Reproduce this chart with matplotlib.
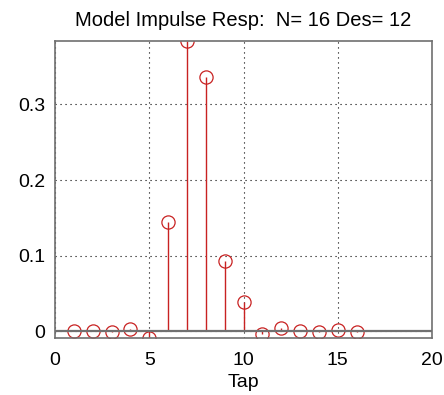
import numpy as np
import matplotlib
matplotlib.use("Agg")
import matplotlib.pyplot as plt

plt.rcParams['font.family'] = ['Liberation Sans', 'DejaVu Sans']

# impulse response of the model, one value per tap
taps = np.arange(1, 17)
resp = [0.0003, 0.0, -0.001, 0.003, -0.009, 0.145, 0.384, 0.337,
        0.093, 0.038, -0.004, 0.0045, 0.0, -0.001, 0.0018, -0.001]
n_taps = 16
delay = 12

fig = plt.figure(figsize=(4.44, 3.95), dpi=100)
ax = fig.add_axes([55/444, 1 - 338/395, (432 - 55)/444, (338 - 41)/395])

red = '#c82222'
markerline, stemlines, baseline = ax.stem(taps, resp)
plt.setp(stemlines, color=red, linewidth=1.0)
plt.setp(markerline, color=red, marker='o', markersize=9.5,
         markerfacecolor='none', markeredgewidth=0.9)
plt.setp(baseline, color='#707070', linewidth=1.6)
baseline.set_xdata([0, 20])

ax.set_xlim(0, 20)
ax.set_ylim(min(resp), max(resp))
ax.set_xticks([0, 5, 10, 15, 20])
ax.set_yticks([0, 0.1, 0.2, 0.3])
ax.set_yticklabels(['0', '0.1', '0.2', '0.3'])
ax.grid(True, linestyle=(0, (1, 3.5)), color='black', linewidth=0.8)
ax.tick_params(length=0, labelsize=14)
ax.tick_params(axis='x', pad=10)
ax.tick_params(axis='y', pad=7)
for sp in ax.spines.values():
    sp.set_color('#707070')
    sp.set_linewidth(1.2)

ax.set_xlabel('Tap', fontsize=14, labelpad=4)
ax.set_title('Model Impulse Resp:  N= %d Des= %d' % (n_taps, delay),
             fontsize=14.5, pad=11)

fig.savefig('out.png', dpi=100)
